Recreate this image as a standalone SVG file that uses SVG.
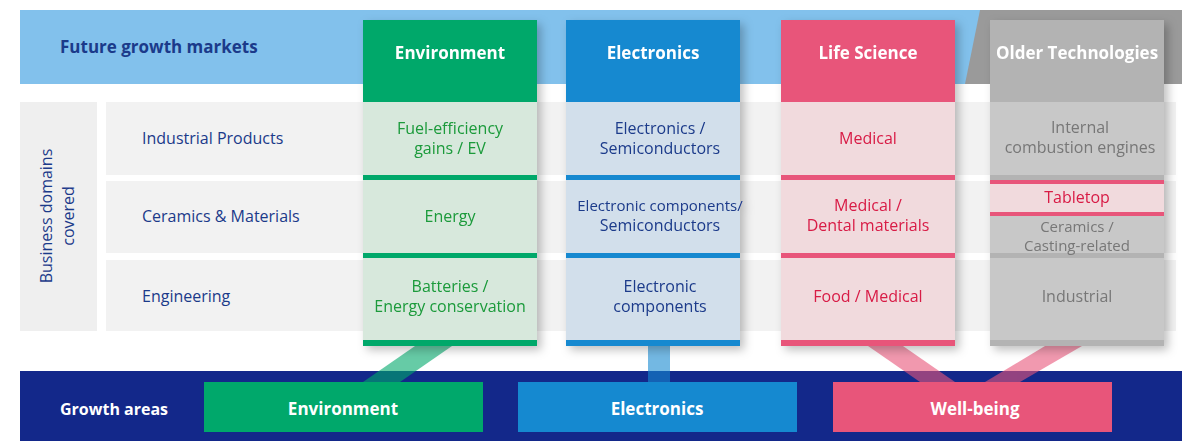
<svg xmlns="http://www.w3.org/2000/svg" width="1200" height="441" viewBox="0 0 1200 441">
<style>
text{font-family:"Open Sans","Noto Sans",sans-serif;text-anchor:middle}
.hd{font-size:17px;font-weight:bold;fill:#fff}
.cell{font-size:16px}
.lbl{font-size:16px;fill:#1b3a8a;text-anchor:start}
</style>
<defs>
<filter id="sh" x="-20%" y="-20%" width="140%" height="140%"><feDropShadow dx="4" dy="4" stdDeviation="5" flood-color="#000" flood-opacity="0.25"/></filter>
</defs>
<rect width="1200" height="441" fill="#fff"/>
<g id="topband">
<rect x="20" y="10" width="960" height="74" fill="#82c1ec"/>
<polygon points="980,10 1182,10 1182,84 965,84" fill="#9a9a9a"/>
<text x="60" y="53" style="font-size:17px;font-weight:bold;fill:#1b3a8a;text-anchor:start">Future growth markets</text>
</g>
<g id="rowlabels">
<rect x="20" y="102" width="77" height="229" fill="#efefef"/>
<text transform="translate(52,216) rotate(-90)" style="font-size:16px;fill:#1b3a8a">Business domains</text>
<text transform="translate(74,216) rotate(-90)" style="font-size:16px;fill:#1b3a8a">covered</text>
<rect x="106" y="102" width="1070" height="73" fill="#f2f2f2"/>
<rect x="106" y="181" width="1070" height="72" fill="#f2f2f2"/>
<rect x="106" y="260" width="1070" height="71" fill="#f2f2f2"/>
<text class="lbl" x="142" y="144">Industrial Products</text>
<text class="lbl" x="142" y="222">Ceramics &amp; Materials</text>
<text class="lbl" x="142" y="302">Engineering</text>
</g>
<g id="growth">
<rect x="20" y="371" width="1162" height="70" fill="#13288a"/>
<text x="60" y="415" style="font-size:16px;font-weight:bold;fill:#fff;text-anchor:start">Growth areas</text>
<rect x="204" y="382" width="279" height="50" fill="#00a86b"/>
<rect x="518" y="382" width="279" height="50" fill="#1589d0"/>
<rect x="833" y="382" width="279" height="50" fill="#e8557a"/>
<text class="hd" x="343" y="415">Environment</text>
<text class="hd" x="657" y="415">Electronics</text>
<text class="hd" x="975" y="415">Well-being</text>
</g>
<g id="connectors" opacity="0.6">
<polygon points="415,346 452,346 400,382 363,382" fill="#00a86b"/>
<rect x="648" y="346" width="22" height="36" fill="#1589d0"/>
<polygon points="868,346 903,346 955,382 920,382" fill="#e8557a"/>
<polygon points="1045,346 1082,346 1020,382 985,382" fill="#e8557a"/>
</g>
<g id="col-env" filter="url(#sh)">
<rect x="363" y="20" width="174" height="326" fill="#d7e8dc"/>
<rect x="363" y="20" width="174" height="82" fill="#00a86b"/>
<rect x="363" y="175" width="174" height="5" fill="#00a86b"/>
<rect x="363" y="253" width="174" height="5" fill="#00a86b"/>
<rect x="363" y="340" width="174" height="6" fill="#00a86b"/>
<text class="hd" x="450" y="59">Environment</text>
<g class="cell" fill="#1a9a3a"><text x="450" y="134">Fuel-efficiency</text><text x="450" y="154">gains / EV</text>
<text x="450" y="222">Energy</text><text x="450" y="292">Batteries /</text><text x="450" y="312">Energy conservation</text></g>
</g>
<g id="col-elec" filter="url(#sh)">
<rect x="566" y="20" width="174" height="326" fill="#d2dfeb"/>
<rect x="566" y="20" width="174" height="82" fill="#1589d0"/>
<rect x="566" y="175" width="174" height="5" fill="#1589d0"/>
<rect x="566" y="253" width="174" height="5" fill="#1589d0"/>
<rect x="566" y="340" width="174" height="6" fill="#1589d0"/>
<text class="hd" x="653" y="59">Electronics</text>
<g class="cell" fill="#1b3a8a"><text x="660" y="134">Electronics /</text><text x="660" y="154">Semiconductors</text>
<text x="660" y="211" style="font-size:15px">Electronic components/</text><text x="660" y="231">Semiconductors</text>
<text x="660" y="292">Electronic</text><text x="660" y="312">components</text></g>
</g>
<g id="col-life" filter="url(#sh)">
<rect x="781" y="20" width="174" height="326" fill="#f1dadd"/>
<rect x="781" y="20" width="174" height="82" fill="#e8557a"/>
<rect x="781" y="175" width="174" height="5" fill="#e8557a"/>
<rect x="781" y="253" width="174" height="5" fill="#e8557a"/>
<rect x="781" y="340" width="174" height="6" fill="#e8557a"/>
<text class="hd" x="868" y="59">Life Science</text>
<g class="cell" fill="#d81a45"><text x="868" y="144">Medical</text>
<text x="868" y="211">Medical /</text><text x="868" y="231">Dental materials</text>
<text x="868" y="302">Food / Medical</text></g>
</g>
<g id="col-older" filter="url(#sh)">
<rect x="990" y="20" width="174" height="326" fill="#c8c8c8"/>
<rect x="990" y="20" width="174" height="82" fill="#b3b3b3"/>
<rect x="990" y="175" width="174" height="5" fill="#b3b3b3"/>
<rect x="990" y="181" width="174" height="34" fill="#f1dadd"/>
<rect x="990" y="180" width="174" height="4" fill="#e8557a"/>
<rect x="990" y="212" width="174" height="4" fill="#e8557a"/>
<rect x="990" y="253" width="174" height="5" fill="#b3b3b3"/>
<rect x="990" y="340" width="174" height="6" fill="#b3b3b3"/>
<text class="hd" x="1077" y="59">Older Technologies</text>
<g class="cell" fill="#777"><text x="1080" y="133">Internal</text><text x="1080" y="153">combustion engines</text>
<text x="1077" y="203" fill="#d81a45">Tabletop</text>
<text x="1077" y="232" font-size="15">Ceramics /</text><text x="1077" y="251" font-size="15">Casting-related</text>
<text x="1077" y="302">Industrial</text></g>
</g>
</svg>
